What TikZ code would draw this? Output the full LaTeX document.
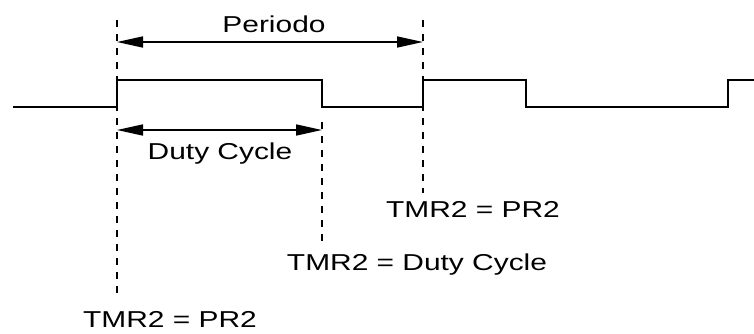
\documentclass[tikz,border=0pt]{standalone}
\usepackage{fontspec}
\setmainfont{Liberation Sans}
\usetikzlibrary{arrows.meta}

\tikzset{
  signal/.style={line width=2.2pt},
  marker/.style={line width=2pt,dash pattern=on 7pt off 7pt},
  span/.style={line width=1.6pt,{Triangle[length=26pt,width=11pt]}-{Triangle[length=26pt,width=11pt]}},
  caption/.style={anchor=base,inner sep=0pt,xscale=1.3,font=\fontsize{23}{27}\selectfont}
}

\begin{document}
\begin{tikzpicture}[x=1pt,y=-1pt]
  \useasboundingbox (0,0) rectangle (754,333);
  % Edge positions of the PWM signal
  \coordinate (start) at (13,107);
  \coordinate (rise1) at (117,107);
  \coordinate (fall1) at (322,80);
  \coordinate (rise2) at (423,107);
  \coordinate (fall2) at (526,80);
  \coordinate (rise3) at (728,107);
  \coordinate (stop) at (754,80);
  % PWM waveform
  \draw[signal] (start) -- (rise1) |- (fall1) |- (rise2) |- (fall2) |- (rise3) |- (stop);
  % Dashed markers
  \coordinate (m1top) at (117,20);
  \coordinate (m1bot) at (117,300);
  \coordinate (m2top) at (322,122);
  \coordinate (m2bot) at (322,248);
  \coordinate (m3top) at (423,20);
  \coordinate (m3bot) at (423,193);
  \draw[marker] (m1top) -- (m1bot);
  \draw[marker] (m2top) -- (m2bot);
  \draw[marker] (m3top) -- (m3bot);
  % Period and duty cycle spans
  \coordinate (pl) at (117,42);
  \coordinate (pr) at (423,42);
  \coordinate (dl) at (117,130);
  \coordinate (dr) at (322,130);
  \draw[span] (pl) -- (pr);
  \draw[span] (dl) -- (dr);
  % Labels
  \node[caption] (periodo) at (274,32) {Periodo};
  \node[caption] (duty) at (220,159) {Duty Cycle};
  \node[caption] (pr2b) at (473,217) {TMR2 = PR2};
  \node[caption] (tmrduty) at (417,270) {TMR2 = Duty Cycle};
  \node[caption] (pr2a) at (170,327) {TMR2 = PR2};
\end{tikzpicture}
\end{document}
